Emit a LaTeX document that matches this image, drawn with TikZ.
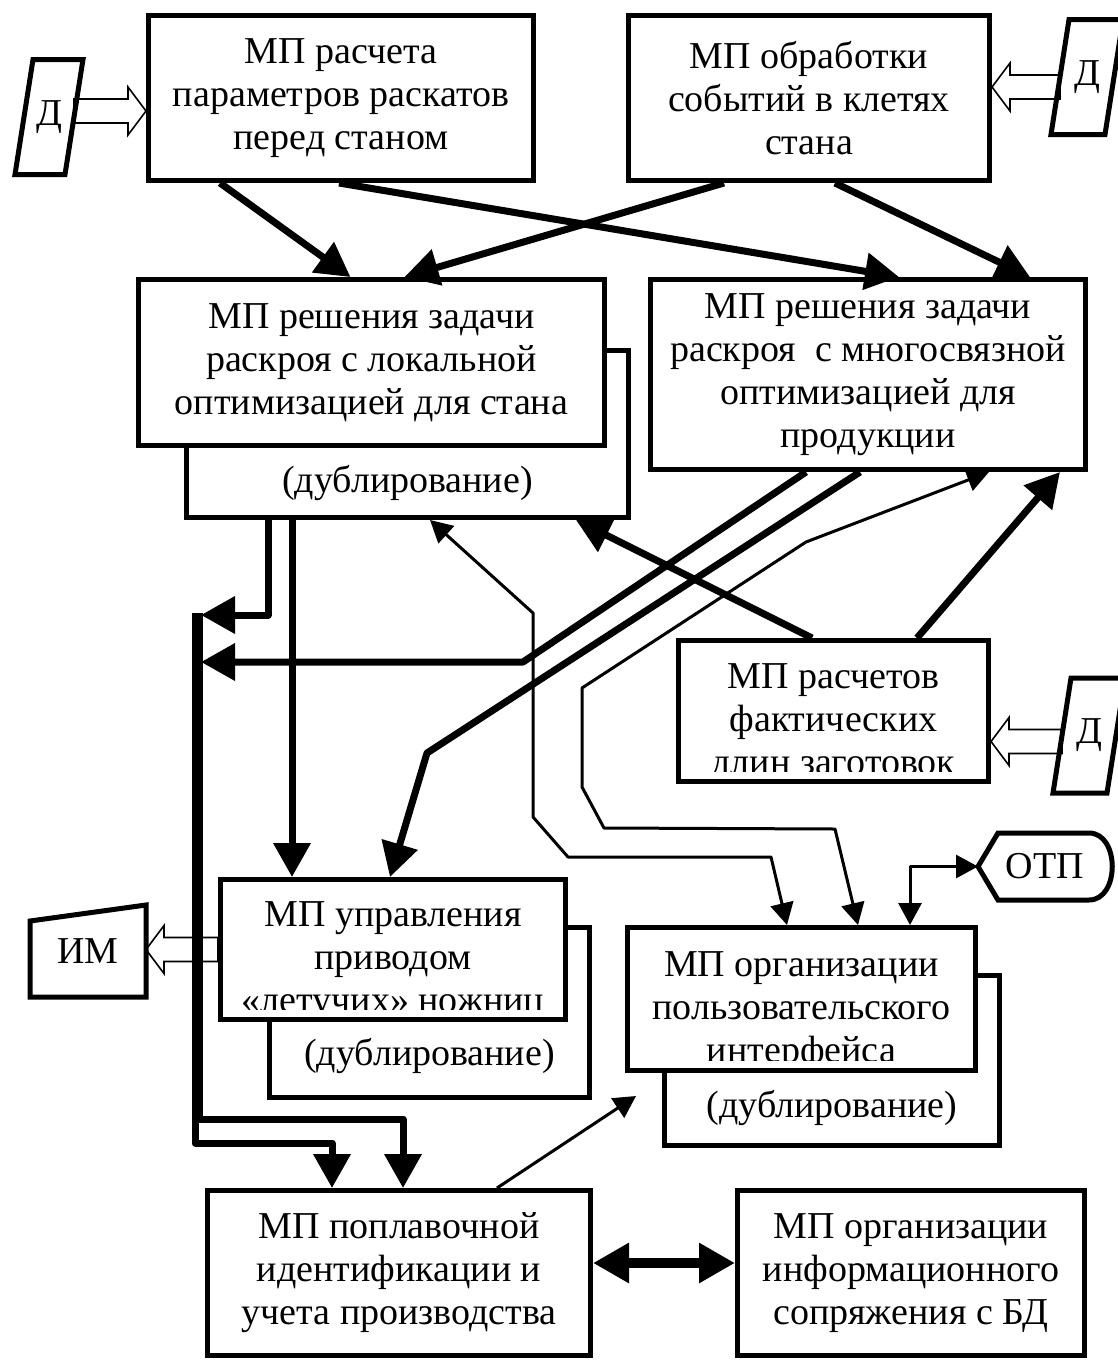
\documentclass[tikz,border=0pt]{standalone}
\usepackage{fontspec}
\setmainfont{Liberation Serif}
\usepackage{tikz}
\usetikzlibrary{arrows.meta,calc}

\begin{document}
\begin{tikzpicture}[x=0.5pt,y=-0.5pt,>={Triangle[length=17pt,width=18pt]},
  font=\fontsize{19}{21.5}\selectfont,
  mp/.style={draw,fill=white,line width=2.5pt,align=center,inner sep=0pt},
  dup/.style={draw,fill=white,line width=2.5pt},
  txt/.style={align=center,inner sep=0pt},
  clipped/.style 2 args={path picture={
      \clip ([yshift=5pt]path picture bounding box.south west) rectangle (path picture bounding box.north east);
      \node[txt] at ([yshift=#1]path picture bounding box.center) {#2};}},
  dnode/.style={minimum height=57.5pt,inner sep=0pt,outer sep=0pt},
  shp/.style={draw,line width=2.5pt},
  thk/.style={line width=3.5pt,line join=round},
  thn/.style={line width=1.5pt,line join=round,>={Triangle[length=11pt,width=11.5pt]}},
  dbl/.style={line width=5pt,>={Triangle[length=18pt,width=19pt]}},
  hollow/.style={draw,fill=white,line width=0.8pt,to path={
      let \p1=(\tikztostart), \p2=(\tikztotarget), \p3=($(\x2,\y1)!9pt!(\p1)$) in
      (\x1,\y1+6pt) -- (\x3,\y1+6pt) -- (\x3,\y1+12pt) -- (\x2,\y1)
      -- (\x3,\y1-12pt) -- (\x3,\y1-6pt) -- (\x1,\y1-6pt) -- cycle}}
]
\useasboundingbox (0,0) rectangle (1118,1361);

% duplicate boxes
\node[dup,minimum width=221pt,minimum height=83.5pt] (dupLokal) at (407.5,434) {};
\node[txt] (dupLokalT) at ($(dupLokal.south)+(0,-37)$) {(дублирование)};
\node[dup,minimum width=160pt,minimum height=85pt] (dupNozh) at (429.5,1012.5) {};
\node[txt] (dupNozhT) at ($(dupNozh.south)+(0,-44)$) {(дублирование)};
\node[dup,minimum width=167.5pt,minimum height=85pt] (dupInterf) at (832,1060.5) {};
\node[txt] (dupInterfT) at ($(dupInterf.south)+(0,-40)$) {(дублирование)};

% main boxes
\node[mp,minimum width=192.5pt,minimum height=82.5pt] (raskat) at (341,98) {МП расчета\\параметров раскатов\\перед станом};
\node[mp,minimum width=180.5pt,minimum height=82.5pt] (sobyt) at (809,98) {МП обработки\\событий в клетях\\стана};
\node[mp,minimum width=233pt,minimum height=83pt] (lokal) at (371.5,362.5) {МП решения задачи\\раскроя с локальной\\оптимизацией для стана};
\node[mp,minimum width=217.5pt,minimum height=95pt] (mnogo) at (868,374.5) {МП решения задачи\\раскроя \ с многосвязной\\оптимизацией для\\продукции};
\node[mp,minimum width=155pt,minimum height=70.5pt,clipped={-6pt}{МП расчетов\\фактических\\длин заготовок}] (fakt) at (833.5,711) {};
\node[mp,minimum width=172.5pt,minimum height=70pt,clipped={-6pt}{МП управления\\приводом\\«летучих» ножниц}] (nozh) at (393,949.5) {};
\node[mp,minimum width=174pt,minimum height=71.5pt,clipped={-6pt}{МП организации\\пользовательского\\интерфейса}] (interf) at (801.5,999) {};
\node[mp,minimum width=191.5pt,minimum height=82.5pt] (ident) at (399,1273) {МП поплавочной\\идентификации и\\учета производства};
\node[mp,minimum width=173.5pt,minimum height=82.5pt] (bd) at (911,1273) {МП организации\\информационного\\сопряжения с БД};

% sensors, actuator, operator
\node[dnode,minimum width=25pt] (dA) at (49,117) {Д};
\draw[hollow] ([yshift=3pt]dA.east) to (raskat.west);
\draw[shp] ($(dA.north west)+(9,0)$) -- ($(dA.north east)+(9,0)$) -- ($(dA.south east)+(-9,0)$) -- ($(dA.south west)+(-9,0)$) -- cycle;

\node[dnode,minimum width=27pt] (dB) at (1087,77) {Д};
\draw[hollow] ([yshift=-5pt]dB.west) to (sobyt.east);
\draw[shp] ($(dB.north west)+(9,0)$) -- ($(dB.north east)+(9,0)$) -- ($(dB.south east)+(-9,0)$) -- ($(dB.south west)+(-9,0)$) -- cycle;

\node[dnode,minimum width=27pt] (dE) at (1089,735.5) {Д};
\draw[hollow] ([yshift=-3pt]dE.west) to (fakt.east);
\draw[shp] ($(dE.north west)+(9,0)$) -- ($(dE.north east)+(9,0)$) -- ($(dE.south east)+(-9,0)$) -- ($(dE.south west)+(-9,0)$) -- cycle;

\node[dnode,minimum width=58pt,minimum height=46pt] (im) at (88,951) {ИМ};
\draw[hollow] (nozh.west) to (im.east);
\draw[shp] (im.south west) -- (im.south east) -- (im.north east) -- ([yshift=-8pt]im.north west) -- cycle;

\node[dnode,minimum width=67pt,minimum height=33.5pt] (otp) at (1045,866.5) {ОТП};
\draw[shp] (otp.west) -- ($(otp.north west)+(20,0)$) -- ($(otp.north east)+(-23,0)$)
  .. controls ($(otp.north east)+(8,0)$) and ($(otp.south east)+(8,0)$) .. ($(otp.south east)+(-23,0)$)
  -- ($(otp.south west)+(20,0)$) -- cycle;

% bus
\coordinate (busL) at (195,613);
\coordinate (busR) at (199,613);
\coordinate (busIn1) at (201,615);
\coordinate (busIn2) at (201,662);
\coordinate (toDupInterf) at (636,1096);

% thick links
\draw[thk,->] ($(raskat.south)+(-121,0)$) -- ($(lokal.north)+(-21,0)$);
\draw[thk,->] ($(raskat.south)+(-2,0)$) -- ($(mnogo.north)+(31,0)$);
\draw[thk,->] ($(sobyt.south)+(-85,0)$) -- ($(lokal.north)+(33,0)$);
\draw[thk,->] ($(sobyt.south)+(26,0)$) -- ($(mnogo.north)+(162,0)$);
\draw[thk,->] ($(dupLokal.south)+(-139.5,0)$) |- (busIn1);
\draw[thk,->] ($(mnogo.south)+(-62,0)$) -- (523,662) -- (busIn2);
\draw[thk,->] ($(dupLokal.south)+(-115.5,0)$) -- ($(nozh.north)+(-101,0)$);
\draw[thk,->] ($(mnogo.south)+(-8,0)$) -- (427,753) -- ($(nozh.north)+(-3,0)$);
\draw[thk,->] ($(fakt.north)+(-21.5,0)$) -- ($(dupLokal.south)+(168.5,0)$);
\draw[thk,->] ($(fakt.north)+(83.5,0)$) -- ($(mnogo.south)+(192,0)$);
\draw[thk,->] (busL) -- (195,1143) -| ($(ident.north)+(-67,0)$);
\draw[thk,->] (busR) -- (199,1119) -| ($(ident.north)+(4,0)$);

% thin links
\draw[thn,<->] ($(dupLokal.south)+(22.5,0)$) -- (533,613) -- (533,817) -- (568,857) -- (771,857) -- ($(interf.north)+(-14.5,0)$);
\draw[thn,<->] ($(mnogo.south)+(121,0)$) -- (806,542) -- (582,688) -- (582,787) -- (604,828) -- (835,829) -- ($(interf.north)+(56.5,0)$);
\draw[thn,->] ($(ident.north)+(98,0)$) -- (toDupInterf);
\draw[thn,<->] ($(interf.north)+(108.5,0)$) |- (otp.west);
\draw[dbl,<->] ($(ident.east)+(0,-10)$) -- ($(bd.west)+(0,-10)$);

\end{tikzpicture}
\end{document}
